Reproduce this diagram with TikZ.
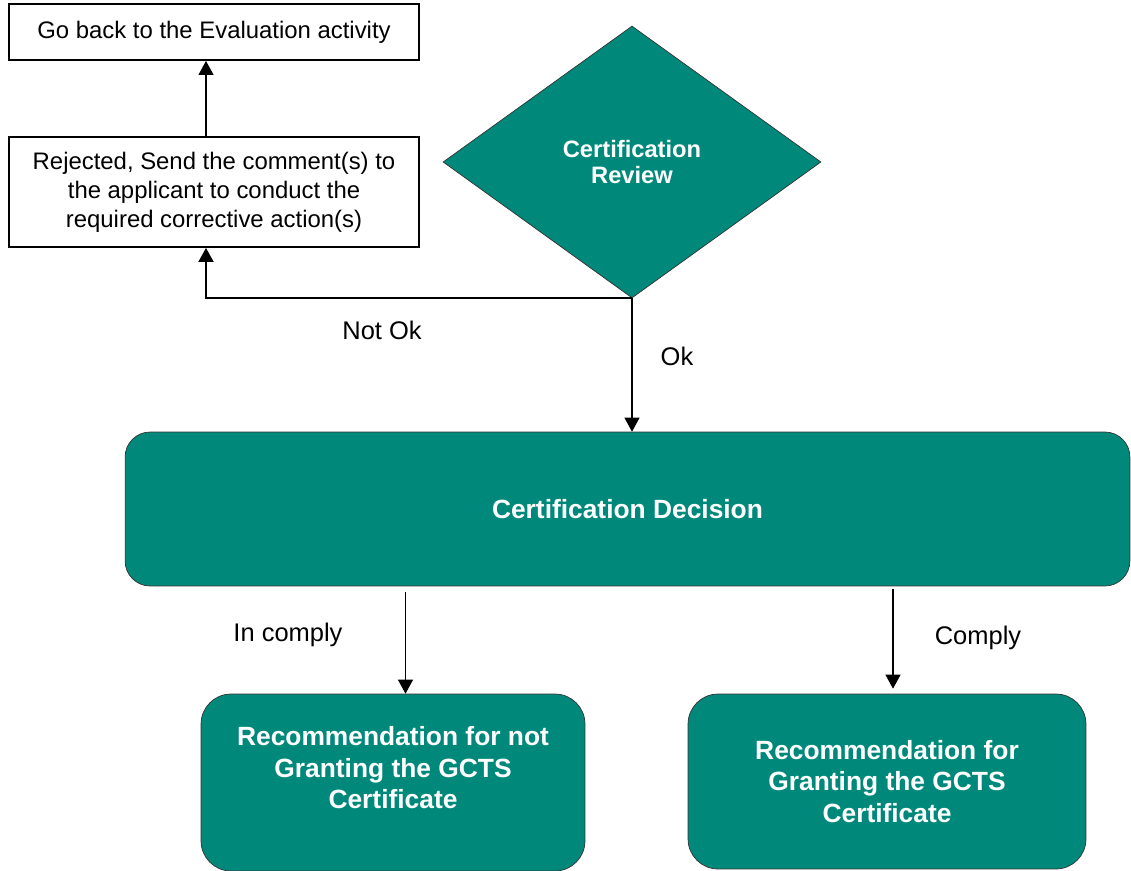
\documentclass[tikz,border=0pt]{standalone}
\usepackage{fontspec}
\setmainfont{Liberation Sans}
\usetikzlibrary{shapes.geometric,arrows.meta,calc}
\definecolor{gctsteal}{RGB}{0,137,123}

\begin{document}
\begin{tikzpicture}[
		x=0.02cm,y=-0.02cm,
		plainbox/.style={draw,line width=1.1pt,align=center,inner sep=0,
			minimum width=8.2cm,node font=\fontsize{13.6}{16.5}\selectfont},
		boxtext/.style={text=white,align=center,inner sep=0,
			node font=\fontsize{15}{17.9}\selectfont\bfseries},
		stepbox/.style={boxtext,draw=black!80,fill=gctsteal},
		reviewbox/.style={diamond,aspect=1.39,draw=black!80,fill=gctsteal,text=white,
			align=center,inner sep=0,node font=\fontsize{13.5}{15.3}\selectfont\bfseries},
		flow/.style={line width=0.6pt,-{Triangle[length=0.28cm,width=0.3cm]}},
		flowlabel/.style={node font=\fontsize{14.5}{17}\selectfont}
	]
	\useasboundingbox (0,0) rectangle (1131,871);
	%
	\node[plainbox,minimum height=1.12cm] (goback)   at (214,32)  {Go back to the Evaluation activity};
	\node[plainbox,minimum height=2.2cm]  (rejected) at (214,192) {Rejected, Send the comment(s) to\\
		the applicant to conduct the\\
		required corrective action(s)};
	\node[reviewbox,minimum width=7.56cm,minimum height=5.44cm] (review) at (632,162) {Certification\\Review};
	\node[stepbox,rounded corners=0.5cm,minimum width=20.1cm,minimum height=3.08cm] (decision) at (627.5,509) {Certification Decision};
	\node[stepbox,rounded corners=0.6cm,minimum width=7.68cm,minimum height=3.54cm] (notgrant) at (393,782.5) {};
	\node[boxtext] (notgrant_txt) at (393,768) {Recommendation for not\\
		Granting the GCTS\\
		Certificate};
	\node[stepbox,rounded corners=0.6cm,minimum width=7.96cm,minimum height=3.5cm] (grant) at (887,781.5) {Recommendation for\\
		Granting the GCTS\\
		Certificate};
	%
	\coordinate (loop)   at ([xshift=-0.16cm]rejected.south);
	\coordinate (nc_in)  at ([xshift=0.25cm]notgrant.north);
	\coordinate (c_in)   at ([xshift=0.12cm]grant.north);
	\draw[flow] (rejected.north -| loop) -- (goback.south -| loop);
	\draw[flow,line width=1.1pt] (review.south) -| (loop);
	\draw[flow] (review.south) -- (review.south |- decision.north);
	\draw[flow,shorten <=0.12cm] (decision.south -| nc_in) -- (nc_in);
	\draw[flow,shorten <=0.06cm,shorten >=0.1cm] (decision.south -| c_in) -- (c_in);
	%
	\node[flowlabel] (notok_lbl)  at (382,330) {Not Ok};
	\node[flowlabel] (ok_lbl)     at (677,356) {Ok};
	\node[flowlabel] (incomp_lbl) at (288,635) {In comply};
	\node[flowlabel] (comp_lbl)   at (978,638) {Comply};
\end{tikzpicture}
\end{document}
